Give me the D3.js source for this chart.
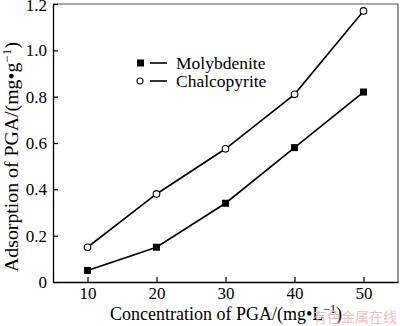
<!DOCTYPE html>
<html>
<head>
<meta charset="utf-8">
<script src="https://cdn.jsdelivr.net/npm/d3@7"></script>
<style>
  html, body { margin: 0; padding: 0; background: #fff; }
  svg { display: block; }
  text { font-family: "Liberation Serif", "Times New Roman", serif; fill: #000; }
</style>
</head>
<body>
<svg id="chart" width="400" height="326"></svg>
<script>
const concentration = [10, 20, 30, 40, 50];
const molybdenite = [0.05, 0.15, 0.34, 0.58, 0.82];
const chalcopyrite = [0.15, 0.38, 0.575, 0.81, 1.17];
const xTicks = [10, 20, 30, 40, 50];
const yTicks = [0, 0.2, 0.4, 0.6, 0.8, 1.0, 1.2];
const seriesNames = ["Molybdenite", "Chalcopyrite"];

const svg = d3.select("#chart");
const mLeft = 53, mRight = 398, mTop = 4, mBottom = 282;

const x = d3.scaleLinear().domain([5, 55]).range([mLeft, mRight]);
const y = d3.scaleLinear().domain([0, 1.2]).range([mBottom, mTop]);

// frame (top & right)
svg.append("path")
  .attr("d", `M${mLeft},${mTop}H${mRight}V${mBottom}`)
  .attr("fill", "none").attr("stroke", "#555").attr("stroke-width", 1.2);

const yAxis = svg.append("g").attr("transform", `translate(${mLeft},0)`)
  .call(d3.axisLeft(y).tickValues(yTicks)
    .tickFormat(d => d === 0 ? "0" : d3.format(".1f")(d))
    .tickSizeInner(-5).tickSizeOuter(0).tickPadding(6));
const xAxis = svg.append("g").attr("transform", `translate(0,${mBottom})`)
  .call(d3.axisBottom(x).tickValues(xTicks)
    .tickSizeInner(-5).tickSizeOuter(0).tickPadding(5));

[yAxis, xAxis].forEach(g => {
  g.selectAll("path.domain").attr("stroke", "#000").attr("stroke-width", 1.3);
  g.selectAll(".tick line").attr("stroke", "#000").attr("stroke-width", 1.2);
  g.selectAll(".tick text").style("font-family", '"Liberation Serif", serif')
    .style("font-size", "17px").attr("fill", "#000");
});
yAxis.selectAll(".tick text").filter(d => d === 1.2).attr("dy", "0.36em");

const line = d3.line().x((d, i) => x(concentration[i])).y(d => y(d));

svg.append("path").datum(chalcopyrite).attr("d", line)
  .attr("fill", "none").attr("stroke", "#000").attr("stroke-width", 1.6);
svg.append("path").datum(molybdenite).attr("d", line)
  .attr("fill", "none").attr("stroke", "#000").attr("stroke-width", 1.6);

svg.selectAll("rect.mo").data(molybdenite).enter().append("rect")
  .attr("x", (d, i) => x(concentration[i]) - 3.5)
  .attr("y", d => y(d) - 3.5)
  .attr("width", 7).attr("height", 7).attr("fill", "#000");

svg.selectAll("circle.ch").data(chalcopyrite).enter().append("circle")
  .attr("cx", (d, i) => x(concentration[i]))
  .attr("cy", d => y(d))
  .attr("r", 3.3).attr("fill", "#fff").attr("stroke", "#000").attr("stroke-width", 1.1);

// legend
const lg = svg.append("g");
const rows = [63, 81];
lg.append("rect").attr("x", 137).attr("y", rows[0] - 3.5).attr("width", 7).attr("height", 7).attr("fill", "#000");
lg.append("circle").attr("cx", 140).attr("cy", rows[1]).attr("r", 3).attr("fill", "#fff").attr("stroke", "#000").attr("stroke-width", 1.1);
rows.forEach((ry, i) => {
  lg.append("line").attr("x1", 150).attr("x2", 167).attr("y1", ry).attr("y2", ry)
    .attr("stroke", "#000").attr("stroke-width", 1.6);
  lg.append("text").attr("x", 176).attr("y", ry + 6).style("font-size", "17.5px").text(seriesNames[i]);
});

// axis titles
const xt = svg.append("text").attr("x", 226).attr("y", 320).attr("text-anchor", "middle")
  .style("font-size", "18px");
xt.append("tspan").text("Concentration of PGA/(mg\u2022L");
xt.append("tspan").attr("dy", -7).style("font-size", "12px").text("\u22121");
xt.append("tspan").attr("dy", 7).text(")");

const yt = svg.append("text").attr("transform", "translate(17.5,157) rotate(-90)")
  .attr("text-anchor", "middle").style("font-size", "18px")
  .attr("textLength", 230).attr("lengthAdjust", "spacingAndGlyphs");
yt.append("tspan").text("Adsorption of PGA/(mg\u2022g");
yt.append("tspan").attr("dy", -7).style("font-size", "12px").text("\u22121");
yt.append("tspan").attr("dy", 7).text(")");

// watermark
svg.append("text").attr("x", 313).attr("y", 322)
  .style("font-family", '"Noto Sans CJK SC", sans-serif').style("font-size", "14px")
  .style("fill", "#f1b3b3").style("opacity", 0.85).text("有色金属在线");
</script>
</body>
</html>
